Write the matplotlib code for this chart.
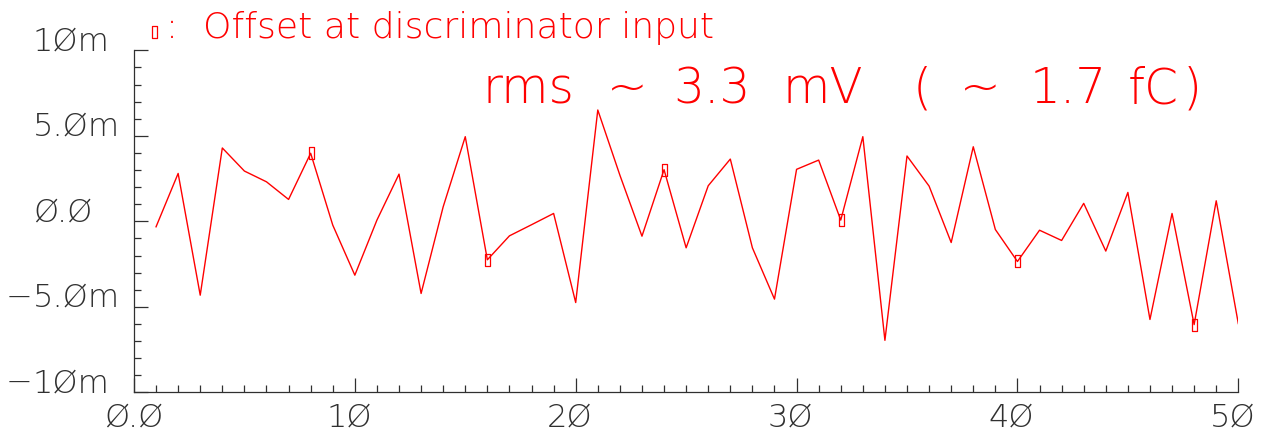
import matplotlib
matplotlib.use("Agg")
import matplotlib.pyplot as plt
from matplotlib.path import Path
from matplotlib.transforms import offset_copy, ScaledTranslation

plt.rcParams["font.family"] = ["DejaVu Sans"]

# discriminator offset per channel, in mV
channels = list(range(1, 51))
offset_mv = [
    -0.32, 2.80, -4.32, 4.29, 2.94, 2.31, 1.28, 3.98, -0.22, -3.15,
    0.07, 2.76, -4.22, 0.85, 4.95, -2.25, -0.85, -0.20, 0.46, -4.75,
    6.51, 2.70, -0.87, 3.02, -1.55, 2.08, 3.64, -1.55, -4.55, 3.04,
    3.58, 0.07, 4.95, -6.96, 3.82, 2.06, -1.24, 4.36, -0.48, -2.35,
    -0.52, -1.12, 1.05, -1.74, 1.69, -5.74, 0.46, -6.04, 1.20, -5.98,
]
# channels measured at the discriminator input
marked = [8, 16, 24, 32, 40, 48]

xticks = [0, 10, 20, 30, 40, 50]
xticklabels = ["Ø.Ø", "1Ø", "2Ø", "3Ø", "4Ø", "5Ø"]
yticks = [10, 5, 0, -5, -10]
yticklabels = ["1Øm", "5.Øm", "Ø.Ø", "−5.Øm", "−1Øm"]

RED = "#ff0000"
INK = "#303030"
LIGHT = "ultralight"

# tall thin box used as marker
box = Path([(-0.45, -1), (0.45, -1), (0.45, 1), (-0.45, 1), (-0.45, -1)],
           [Path.MOVETO, Path.LINETO, Path.LINETO, Path.LINETO, Path.CLOSEPOLY])

fig = plt.figure(figsize=(12.65, 4.36), dpi=100)
ax = fig.add_axes([0.1059, 0.1002, 0.8730, 0.7844])

ax.plot(channels, offset_mv, color=RED, lw=1.0)
mk_y = [offset_mv[channels.index(c)] for c in marked]
ax.plot(marked, mk_y, ls="none", marker=box, markersize=8, mfc="none",
        mec=RED, mew=0.9)

ax.set_xlim(0, 50)
ax.set_ylim(-10, 10)
for side in ("top", "right"):
    ax.spines[side].set_visible(False)
for side in ("left", "bottom"):
    ax.spines[side].set_color(INK)
    ax.spines[side].set_linewidth(0.9)

ax.set_xticks(xticks)
ax.set_xticklabels(xticklabels, fontsize=23, color=INK, fontweight=LIGHT)
ax.set_xticks(range(0, 51), minor=True)
ax.set_yticks(yticks)
ax.set_yticklabels([])
ax.set_yticks(range(-10, 11), minor=True)
ax.tick_params(which="both", direction="in", color=INK, width=0.9)
ax.tick_params(which="major", length=10, pad=7)
ax.tick_params(which="minor", length=5)

# two-digit x labels sit a little left of their tick
shift = ScaledTranslation(-6 / 100, 0, fig.dpi_scale_trans)
for lab in ax.get_xticklabels()[1:]:
    lab.set_transform(lab.get_transform() + shift)

# y labels: digits left-aligned, minus sign hanging to the left
num_tr = offset_copy(ax.get_yaxis_transform(), fig=fig, x=-101, y=0, units="dots")
sign_tr = offset_copy(ax.get_yaxis_transform(), fig=fig, x=-128, y=0, units="dots")
for v, lab in zip(yticks, yticklabels):
    if lab.startswith("−"):
        ax.text(0, v, "−", transform=sign_tr, ha="left", va="baseline",
                fontsize=23, color=INK, fontweight=LIGHT)
        lab = lab[1:]
    ax.text(0, v, lab, transform=num_tr, ha="left", va="baseline",
            fontsize=23, color=INK, fontweight=LIGHT)

# legend line above the axes
ax.plot([154 / 1265], [1 - 32 / 436], transform=fig.transFigure, marker=box,
        markersize=8, mfc="none", mec=RED, mew=0.9, clip_on=False)
fig.text(166 / 1265, 1 - 38 / 436, ":", color=RED, fontsize=26,
         fontweight=LIGHT, ha="left", va="baseline")
fig.text(203 / 1265, 1 - 38 / 436, "Offset at discriminator input",
         color=RED, fontsize=26, fontweight=LIGHT, ha="left", va="baseline")

# rms annotation
pieces = [(483, "rms"), (607, "~"), (673, "3.3"), (782, "mV"), (913, "("),
          (960, "~"), (1030, "1.7"), (1128, "fC"), (1183, ")")]
for px, s in pieces:
    fig.text(px / 1265, 1 - 103 / 436, s, color=RED, fontsize=35,
             fontweight=LIGHT, ha="left", va="baseline")

fig.savefig("out.png", dpi=100)
